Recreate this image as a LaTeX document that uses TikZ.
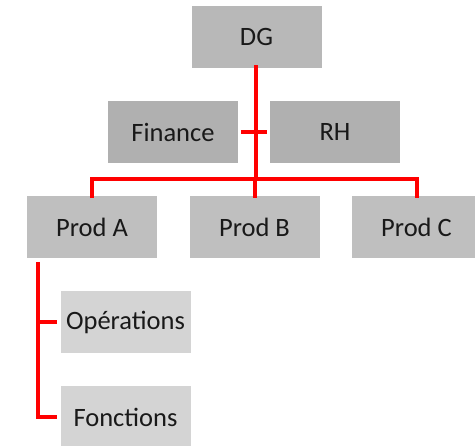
\documentclass[tikz,border=0pt]{standalone}
\usepackage{fontspec}
\setmainfont{Carlito}
\begin{document}
\begin{tikzpicture}[x=1pt,y=-1pt,
  box/.style={draw=white,line width=0.6pt,minimum width=131pt,minimum height=63pt,inner sep=0pt,
    font=\fontsize{26.5}{31}\selectfont,text=black!90},
  lvlone/.style={box,fill=black!28},
  lvlmid/.style={box,fill=black!31},
  lvltwo/.style={box,fill=black!25},
  lvlthree/.style={box,fill=black!17},
  link/.style={draw=red,line width=4pt,line join=miter,line cap=butt}]
\clip (0,0) rectangle (475,446);
\useasboundingbox (0,0) rectangle (475,446);
\node[lvlone] (dg) at (256.5,36.5) {DG};
\node[lvlmid] (fin) at (173,132) {Finance};
\node[lvlmid] (rh) at (335,132) {RH};
\node[lvltwo] (pa) at (92,227) {Prod A};
\node[lvltwo] (pb) at (254.5,227) {Prod B};
\node[lvltwo] (pc) at (416.5,227) {Prod C};
\node[lvlthree] (ops) at (125.5,322) {Opérations};
\node[lvlthree] (fon) at (125.5,417) {Fonctions};
\coordinate (jn) at (256,179);
\coordinate (ja) at (pa.north |- jn);
\coordinate (jc) at (pc.north |- jn);
\coordinate (sa) at (38,262);
\draw[link] ([yshift=3pt]dg.south -| jn) -- (jn);
\draw[link] ([xshift=2pt]fin.east) -- ([xshift=-2pt]rh.west);
\draw[link] ([yshift=-3pt]pa.north) -- (ja) -- (jc) -- ([yshift=-3pt]pc.north);
\draw[link] (pb.north |- jn) -- ([yshift=-3pt]pb.north);
\draw[link] (sa) -- (sa |- fon.west) -- ([xshift=-3pt]fon.west);
\draw[link] (sa |- ops.west) -- ([xshift=-3pt]ops.west);
\end{tikzpicture}
\end{document}
